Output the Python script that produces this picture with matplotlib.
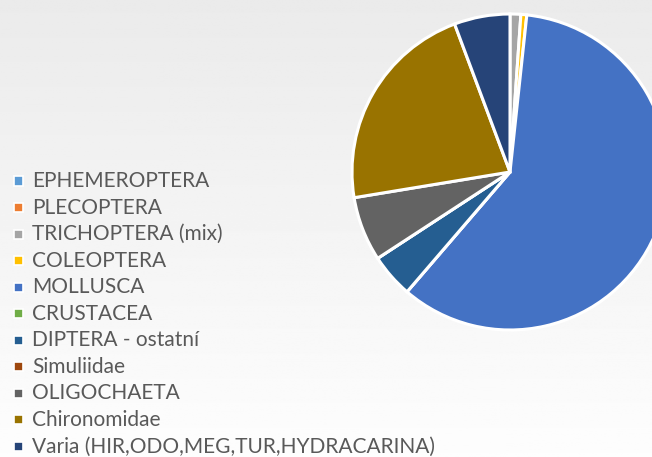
import numpy as np
import matplotlib
matplotlib.use('Agg')
import matplotlib.pyplot as plt
from matplotlib.patches import Rectangle

labels = ['EPHEMEROPTERA', 'PLECOPTERA', 'TRICHOPTERA (mix)', 'COLEOPTERA', 'MOLLUSCA',
          'CRUSTACEA', 'DIPTERA - ostatní', 'Simuliidae', 'OLIGOCHAETA', 'Chironomidae',
          'Varia (HIR,ODO,MEG,TUR,HYDRACARINA)']
shares = [0.0, 0.0, 1.1, 0.6, 59.6, 0.0, 4.5, 0.0, 6.6, 21.9, 5.7]
colors = ['#5B9BD5', '#ED7D31', '#A5A5A5', '#FFC000', '#4472C4', '#70AD47',
          '#255E91', '#9E480E', '#636363', '#997300', '#264478']

W, H = 652, 457
fig = plt.figure(figsize=(W / 100, H / 100), dpi=100)

# background gradient, light grey at the top to near white at the bottom
bg = fig.add_axes([0, 0, 1, 1])
grad = np.linspace(0.92, 0.993, 256).reshape(-1, 1)
bg.imshow(np.repeat(grad, 2, axis=1), cmap='gray', vmin=0, vmax=1,
          aspect='auto', extent=[0, 1, 0, 1], origin='upper')
bg.set_axis_off()

# pie: centre (510,172) px, radius 158 px
cx, cy, r = 510, 172, 158
ax = fig.add_axes([(cx - r) / W, (H - cy - r) / H, 2 * r / W, 2 * r / H])
ax.pie(shares, colors=colors, startangle=90, counterclock=False,
       wedgeprops=dict(edgecolor='white', linewidth=2.2))
ax.set_aspect('equal')
ax.set_xlim(-1.0, 1.0)
ax.set_ylim(-1.0, 1.0)

# legend
for i, (lab, col) in enumerate(zip(labels, colors)):
    y = 181 + 26.55 * i
    fig.patches.append(Rectangle((14 / W, 1 - (y + 4.5) / H), 9 / W, 9 / H,
                                 transform=fig.transFigure, facecolor=col,
                                 edgecolor='white', linewidth=1.2))
    fig.text(32 / W, 1 - y / H, lab, fontsize=15, family='Lato',
             color='#595959', va='center', ha='left')

fig.savefig('out.png', dpi=100)
